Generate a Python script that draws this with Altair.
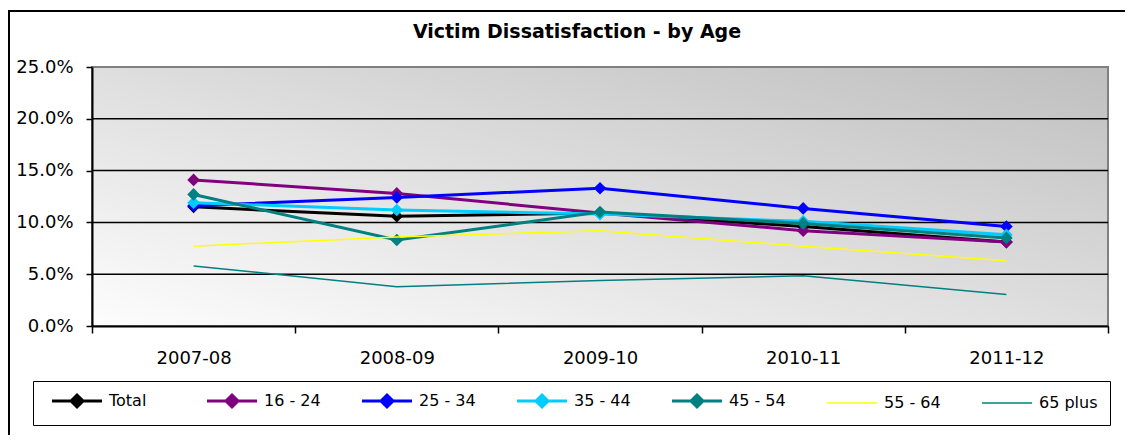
import altair as alt
import pandas as pd

# ---- data ----
years = ["2007-08", "2008-09", "2009-10", "2010-11", "2011-12"]
series = ["Total", "16 - 24", "25 - 34", "35 - 44", "45 - 54", "55 - 64", "65 plus"]
total = [11.5, 10.6, 10.9, 9.6, 8.1]
age_16_24 = [14.1, 12.8, 10.9, 9.2, 8.1]
age_25_34 = [11.6, 12.4, 13.3, 11.35, 9.6]
age_35_44 = [11.9, 11.2, 10.8, 10.1, 8.8]
age_45_54 = [12.7, 8.3, 11.0, 9.9, 8.5]
age_55_64 = [7.7, 8.6, 9.2, 7.7, 6.3]
age_65_plus = [5.8, 3.8, 4.4, 4.85, 3.05]
y_ticks = [0, 5, 10, 15, 20, 25]
grid_values = [5, 10, 15, 20]

# ---- styles ----
colors = ["#000000", "#800080", "#0000FF", "#00CCFF", "#008080", "#FFFF00", "#008080"]
widths = [3, 3, 3, 3, 3, 1.5, 1.5]
has_marker = [True, True, True, True, True, False, False]
FONT = "DejaVu Sans"
W, H = 1016, 259

values_by_series = [total, age_16_24, age_25_34, age_35_44, age_45_54, age_55_64, age_65_plus]
rows = []
for s, vals in zip(series, values_by_series):
    for yr, v in zip(years, vals):
        rows.append({"series": s, "year": yr, "value": v / 100.0})
df = pd.DataFrame(rows)
grid_df = pd.DataFrame({"value": [g / 100.0 for g in grid_values]})
one = pd.DataFrame({"a": [0]})

thin = [s for s, m in zip(series, has_marker) if not m]
thin_list = "[" + ",".join("'" + s + "'" for s in thin) + "]"
is_thin = f"indexof({thin_list}, datum.value) >= 0"

X = alt.X(
    "year:N",
    sort=years,
    scale=alt.Scale(type="band", domain=years, paddingInner=0, paddingOuter=0),
    axis=alt.Axis(
        title=None, labelAngle=0, tickBand="extent", grid=False,
        domainColor="black", domainWidth=2, tickColor="black", tickWidth=1.5,
        tickSize=7, labelFont=FONT, labelFontSize=18, labelColor="black",
        labelPadding=16, zindex=1,
    ),
)
Y = alt.Y(
    "value:Q",
    scale=alt.Scale(domain=[0, 0.25], nice=False, zero=True),
    axis=alt.Axis(
        title=None, values=[t / 100.0 for t in y_ticks], format=".1%", grid=False,
        domainColor="black", domainWidth=2, tickColor="black", tickWidth=1.5,
        tickSize=6, labelFont=FONT, labelFontSize=18, labelColor="black",
        labelPadding=13, zindex=1,
    ),
)
C = alt.Color(
    "series:N",
    sort=series,
    scale=alt.Scale(domain=series, range=colors),
    legend=alt.Legend(
        title=None, orient="none", legendX=-59, legendY=314,
        direction="horizontal", columns=7, gridAlign="all",
        symbolSize=2500,
        symbolType=alt.ExprRef(
            f"{is_thin} ? 'M-1,0L1,0' : 'M-1,0L1,0M-0.24,0L0,-0.24L0.24,0L0,0.24Z'"
        ),
        symbolStrokeWidth=alt.ExprRef(f"{is_thin} ? 1.5 : 3"),
        symbolStrokeColor=alt.ExprRef("scale('color', datum.value)"),
        symbolFillColor=alt.ExprRef("scale('color', datum.value)"),
        symbolOpacity=1,
        symbolOffset=24,
        labelFont=FONT, labelFontSize=16, labelColor="black", labelOffset=24,
        columnPadding=32, padding=12,
        fillColor="white", strokeColor="black",
    ),
)

frame = alt.Chart(one).mark_rect(filled=False, stroke="black", strokeWidth=2).encode(
    x=alt.value(-83), x2=alt.value(1060), y=alt.value(-56), y2=alt.value(390)
)
background = alt.Chart(one).mark_rect(
    fill=alt.LinearGradient(
        gradient="linear",
        stops=[
            alt.GradientStop(color="#fdfdfd", offset=0),
            alt.GradientStop(color="#bfbfbf", offset=1),
        ],
        x1=0, y1=1, x2=1, y2=0,
    ),
    stroke="#808080", strokeWidth=2,
).encode(x=alt.value(0), x2=alt.value(W), y=alt.value(0), y2=alt.value(H))

grid = alt.Chart(grid_df).mark_rule(color="black", strokeWidth=1.5).encode(
    y=Y, x=alt.value(0), x2=alt.value(W)
)

layers = [frame, background, grid]
for s, w, m in zip(series, widths, has_marker):
    base = alt.Chart(df).transform_filter(alt.datum.series == s)
    layers.append(base.mark_line(strokeWidth=w).encode(x=X, y=Y, color=C))
    if m:
        layers.append(
            base.mark_point(shape="diamond", filled=True, size=160, opacity=1).encode(
                x=X, y=Y, color=C
            )
        )

chart = (
    alt.layer(*layers)
    .properties(
        width=W,
        height=H,
        autosize=alt.AutoSizeParams(type="none"),
        padding={"left": 84, "top": 59, "right": 17, "bottom": 109},
        title=alt.TitleParams(
            "Victim Dissatisfaction - by Age", font=FONT, fontSize=19,
            fontWeight="bold", color="black", anchor="middle", dx=-23, offset=-32,
        ),
    )
    .configure_view(strokeWidth=0)
)

chart.save("out.html", embed_options={"renderer": "svg", "actions": False})
